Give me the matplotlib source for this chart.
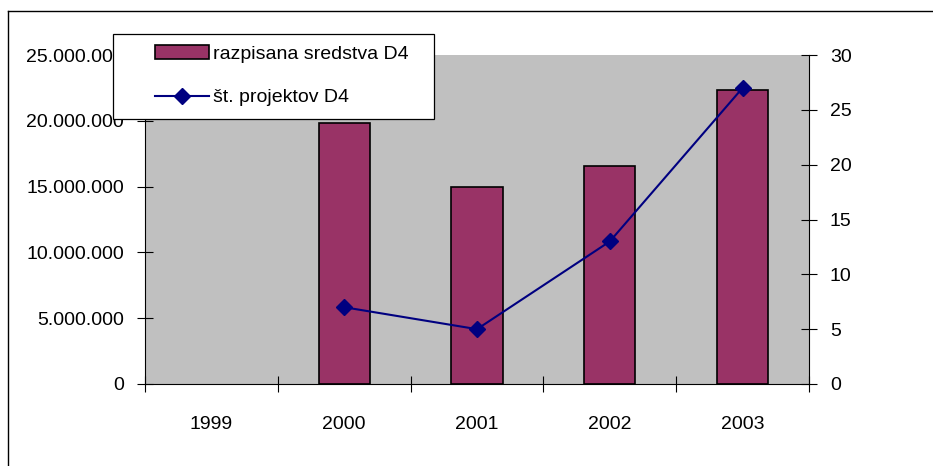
import numpy as np
import matplotlib
matplotlib.use("Agg")
import matplotlib.pyplot as plt
from matplotlib.ticker import FuncFormatter, FixedLocator
from matplotlib.lines import Line2D
from matplotlib.patches import Rectangle

years = ["1999", "2000", "2001", "2002", "2003"]
funds = [np.nan, 19_800_000, 15_000_000, 16_600_000, 22_350_000]  # razpisana sredstva D4
projects = [np.nan, 7, 5, 13, 27]  # št. projektov D4

plt.rcParams["font.family"] = ["Liberation Sans", "DejaVu Sans"]
plt.rcParams["font.size"] = 14

W, H = 933, 466
fig = plt.figure(figsize=(W / 100, H / 100), dpi=100)
ax = fig.add_axes([145 / W, 1 - 384 / H, 664 / W, 329 / H])
ax.set_facecolor("#C0C0C0")

x = np.arange(len(years))
bars = ax.bar(x, funds, width=0.385, color="#993366", edgecolor="black",
              linewidth=1.2, label="razpisana sredstva D4", zorder=2)
ax.set_xlim(-0.5, len(years) - 0.5)
ax.set_ylim(0, 25_000_000)
ax.yaxis.set_major_locator(FixedLocator(np.arange(0, 25_000_001, 5_000_000)))
ax.yaxis.set_major_formatter(FuncFormatter(lambda v, p: f"{int(v):,}".replace(",", ".")))

ax.set_xticks(x)
ax.set_xticklabels(years)
ax.set_xticks(np.arange(-0.5, len(years)), minor=True)
ax.tick_params(axis="x", which="major", length=0, pad=23)
ax.tick_params(axis="x", which="minor", direction="inout", length=12, width=0.8)
ax.tick_params(axis="y", direction="inout", length=12, width=0.8, pad=9)

ax2 = ax.twinx()
ax2.plot(x, projects, color="#000080", lw=1.5, marker="D", markersize=8,
         label="št. projektov D4", zorder=3)
ax2.set_ylim(0, 30)
ax2.set_yticks(np.arange(0, 31, 5))
ax2.tick_params(axis="y", direction="inout", length=12, width=0.8, pad=9)

for a in (ax, ax2):
    a.spines["top"].set_visible(False)
ax.spines["right"].set_visible(False)
ax2.spines["left"].set_visible(False)
ax2.spines["bottom"].set_visible(False)

# legend box drawn separately so its padding can match the original
fig.add_artist(Rectangle((113 / W, 1 - 119 / H), 321 / W, 85 / H,
                         transform=fig.transFigure, facecolor="white",
                         edgecolor="black", lw=0.9, zorder=4))
handles = [bars, ax2.get_lines()[0]]
leg = fig.legend(handles, [h.get_label() for h in handles],
                 loc="upper left", bbox_to_anchor=(155 / W, 1 - 45 / H),
                 frameon=False, borderpad=0, labelspacing=1.35, handlelength=2.8,
                 handletextpad=0.2, borderaxespad=0)
leg.set_zorder(5)

# outer chart border (left and top edges only visible)
fig.add_artist(Line2D([8 / W, 8 / W], [0, 1 - 11 / H], color="black", lw=1,
                      transform=fig.transFigure))
fig.add_artist(Line2D([8 / W, 1], [1 - 11 / H, 1 - 11 / H], color="black", lw=1,
                      transform=fig.transFigure))

fig.savefig("out.png", dpi=100)
